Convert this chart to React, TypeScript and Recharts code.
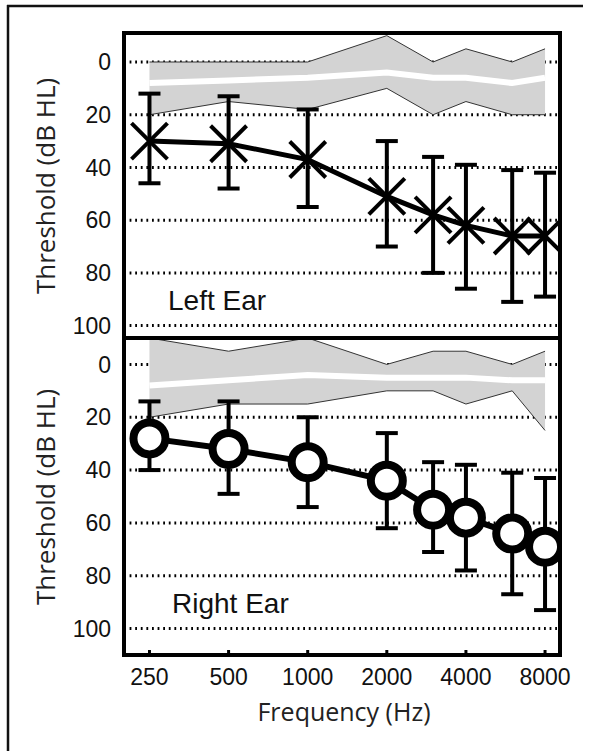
import React from 'react';
import { ComposedChart, Line, Area, XAxis, YAxis, CartesianGrid, ErrorBar } from 'recharts';

const freqs = [250, 500, 1000, 2000, 3000, 4000, 6000, 8000];
const freqTicks = [250, 500, 1000, 2000, 4000, 8000];
const dbTicks = [0, 20, 40, 60, 80, 100];

// left ear (top panel)
const leftMean = [30, 31, 37, 51, 58, 62, 66, 66];
const leftLow = [12, 13, 18, 30, 36, 39, 41, 42];
const leftHigh = [46, 48, 55, 70, 80, 86, 91, 89];
const leftNormTop = [0, 0, 0, -10, 0, -5, 0, -5];
const leftNormBottom = [20, 15, 18, 10, 20, 15, 20, 20];
const leftNormMedian = [8, 7, 6, 4, 6, 6, 8, 6];

// right ear (bottom panel)
const rightMean = [28, 32, 37, 44, 55, 58, 64, 69];
const rightLow = [14, 14, 20, 26, 37, 38, 41, 43];
const rightHigh = [40, 49, 54, 62, 71, 78, 87, 93];
const rightNormTop = [-10, -5, -10, 0, -5, -5, 0, -5];
const rightNormBottom = [20, 15, 15, 10, 10, 15, 10, 25];
const rightNormMedian = [8, 6, 4, 5, 5, 5, 6, 6];

const buildRows = (
  mean: number[],
  low: number[],
  high: number[],
  top: number[],
  bottom: number[],
  median: number[]
) =>
  freqs.map((f, i) => ({
    f,
    mean: mean[i],
    err: [mean[i] - low[i], high[i] - mean[i]],
    band: [top[i], bottom[i]],
    median: median[i],
  }));

const leftRows = buildRows(leftMean, leftLow, leftHigh, leftNormTop, leftNormBottom, leftNormMedian);
const rightRows = buildRows(rightMean, rightLow, rightHigh, rightNormTop, rightNormBottom, rightNormMedian);

const tickFont = { fontFamily: '"Liberation Sans", Arial, sans-serif', fontSize: 23, fill: '#111' };
const titleFont = '"Open Sans", "Noto Sans", sans-serif';

const CrossDot = (props: any) => {
  const { cx, cy, index } = props;
  if (cx == null || cy == null) return <g key={index} />;
  const s = 18;
  return (
    <g key={index}>
      <line x1={cx - s} y1={cy - s} x2={cx + s} y2={cy + s} stroke="#000" strokeWidth={4} />
      <line x1={cx - s} y1={cy + s} x2={cx + s} y2={cy - s} stroke="#000" strokeWidth={4} />
    </g>
  );
};

const RingDot = (props: any) => {
  const { cx, cy, index } = props;
  if (cx == null || cy == null) return <g key={index} />;
  return <circle key={index} cx={cx} cy={cy} r={16} fill="#fff" stroke="#000" strokeWidth={8} />;
};

interface PanelProps {
  rows: ReturnType<typeof buildRows>;
  yDomain: [number, number];
  height: number;
  margin: { top: number; right: number; bottom: number; left: number };
  dot: (p: any) => React.ReactElement;
  lineWidth: number;
  labels: boolean;
}

function EarPanel({ rows, yDomain, height, margin, dot, lineWidth, labels }: PanelProps) {
  return (
    <ComposedChart width={589} height={height} data={rows} margin={margin}>
      <CartesianGrid vertical={false} stroke="#000" strokeWidth={3} strokeDasharray="1.8 3.8" />
      <XAxis
        dataKey="f"
        type="number"
        scale="log"
        domain={[200, 9120]}
        ticks={freqTicks}
        interval={0}
        allowDataOverflow
        axisLine={false}
        tickSize={-5}
        tickMargin={19}
        tickLine={{ stroke: '#000', strokeWidth: 3 }}
        height={labels ? 40 : 0}
        tick={tickFont}
        tickFormatter={labels ? (v: number) => String(v) : () => ''}
      />
      <XAxis
        xAxisId="top"
        orientation="top"
        type="number"
        scale="log"
        domain={[200, 9120]}
        ticks={freqTicks}
        interval={0}
        allowDataOverflow
        axisLine={false}
        tickSize={-5}
        tickLine={{ stroke: '#000', strokeWidth: 3 }}
        height={0}
        tickFormatter={() => ''}
      />
      <YAxis
        type="number"
        reversed
        domain={yDomain}
        ticks={dbTicks}
        interval={0}
        allowDataOverflow
        width={60}
        axisLine={false}
        tickLine={false}
        tickSize={0}
        tickMargin={13}
        tick={tickFont}
      />
      <Area
        dataKey="band"
        type="linear"
        fill="#d3d3d3"
        fillOpacity={1}
        stroke="#333"
        strokeWidth={1}
        isAnimationActive={false}
      />
      <Line dataKey="median" type="linear" stroke="#fff" strokeWidth={6} dot={false} isAnimationActive={false} />
      <Line dataKey="mean" type="linear" stroke="#000" strokeWidth={lineWidth} dot={dot} isAnimationActive={false}>
        <ErrorBar dataKey="err" direction="y" width={11} stroke="#000" strokeWidth={4} />
      </Line>
    </ComposedChart>
  );
}

export default function App() {
  return (
    <div style={{ position: 'absolute', left: 0, top: 0, width: 589, height: 751, background: '#fff' }}>
      <div style={{ position: 'absolute', left: 0, top: 0 }}>
        <EarPanel
          rows={leftRows}
          yDomain={[-11, 104.7]}
          height={345}
          margin={{ top: 33, right: 29, bottom: 7, left: 64 }}
          dot={CrossDot}
          lineWidth={5}
          labels={false}
        />
      </div>
      <div style={{ position: 'absolute', left: 0, top: 330 }}>
        <EarPanel
          rows={rightRows}
          yDomain={[-10, 110]}
          height={421}
          margin={{ top: 8, right: 29, bottom: 56, left: 64 }}
          dot={RingDot}
          lineWidth={6}
          labels
        />
      </div>
      <svg
        width={589}
        height={751}
        style={{ position: 'absolute', left: 0, top: 0, pointerEvents: 'none' }}
      >
        <line x1={7} y1={6} x2={583} y2={6} stroke="#111" strokeWidth={2.5} />
        <line x1={8} y1={5} x2={8} y2={751} stroke="#111" strokeWidth={2.5} />
        <rect x={124} y={33} width={436} height={305} fill="none" stroke="#000" strokeWidth={4} />
        <rect x={124} y={338} width={436} height={317} fill="none" stroke="#000" strokeWidth={4} />
        <text x={168} y={310} style={{ ...tickFont, fontSize: 28 }}>
          Left Ear
        </text>
        <text x={172} y={613} style={{ ...tickFont, fontSize: 28 }}>
          Right Ear
        </text>
        <text
          x={55}
          y={186}
          transform="rotate(-90 55 186)"
          textAnchor="middle"
          style={{ fontFamily: titleFont, fontSize: 26, fill: '#222' }}
        >
          Threshold (dB HL)
        </text>
        <text
          x={55}
          y={497}
          transform="rotate(-90 55 497)"
          textAnchor="middle"
          style={{ fontFamily: titleFont, fontSize: 26, fill: '#222' }}
        >
          Threshold (dB HL)
        </text>
        <text x={344} y={721} textAnchor="middle" style={{ fontFamily: titleFont, fontSize: 25, fill: '#222' }}>
          Frequency (Hz)
        </text>
      </svg>
    </div>
  );
}
